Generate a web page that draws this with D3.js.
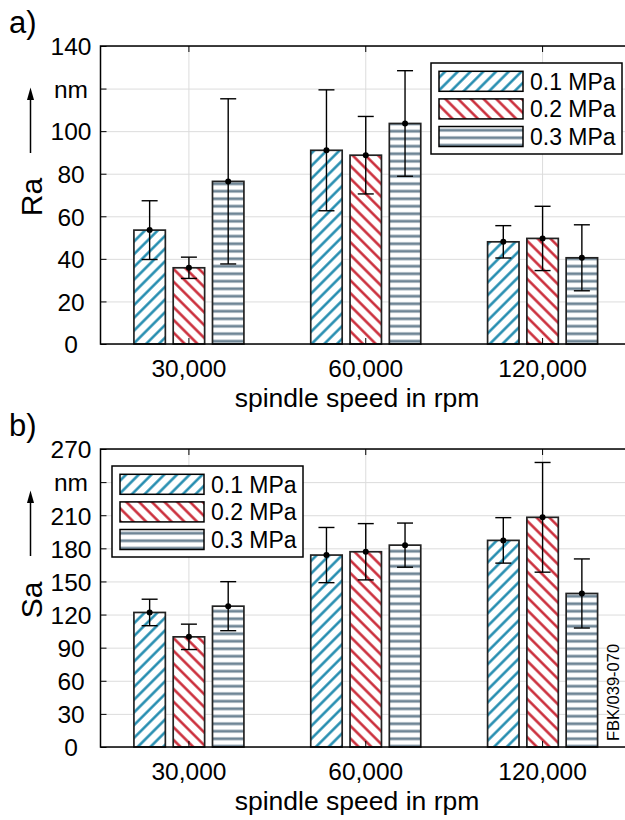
<!DOCTYPE html>
<html lang="en">
<head>
<meta charset="UTF-8">
<title>Ra / Sa vs spindle speed</title>
<script src="https://cdn.jsdelivr.net/npm/d3@7"></script>
<style>
  body { margin: 0; background: #fff; }
  svg text { font-family: Arial, "Liberation Sans", sans-serif; fill: #000; }
  .grid line { stroke: #dcdcdc; stroke-width: 1; }
  .grid path { display: none; }
  .bar { stroke: #222; stroke-width: 1.7; }
  .err { stroke: #000; stroke-width: 1.4; fill: none; }
  .ticks line { stroke: #000; stroke-width: 1; }
</style>
</head>
<body>
<div id="chart"></div>
<script>
var categories = ['30,000', '60,000', '120,000'];
var pressures = ['0.1 MPa', '0.2 MPa', '0.3 MPa'];

// Ra in nm: one row per pressure, one value per spindle speed
var raMean = [
  [53.5, 91.0, 48.0],
  [35.8, 88.7, 49.6],
  [76.4, 103.6, 40.5]
];
var raDev = [
  [13.8, 28.4, 7.6],
  [5.0, 18.2, 15.1],
  [38.8, 24.8, 15.5]
];
var raTicks = [0, 20, 40, 60, 80, 100, 120, 140];

// Sa in nm
var saMean = [
  [121.9, 173.9, 187.2],
  [99.8, 176.9, 208.1],
  [127.6, 182.9, 139.1]
];
var saDev = [
  [12.0, 25.0, 20.6],
  [11.5, 25.5, 49.7],
  [22.2, 20.0, 31.3]
];
var saTicks = [0, 30, 60, 90, 120, 150, 180, 210, 240, 270];

var hatchColors = ['#1786ab', '#c8202e', '#6f8696'];

var W = 625, H = 820;
var left = 100.5, right = 631;

var svg = d3.select('#chart').append('svg')
    .attr('width', W)
    .attr('height', H);

var defs = svg.append('defs');

function hatch(id, color, angle, size, width)
{
    var p = defs.append('pattern')
        .attr('id', id)
        .attr('patternUnits', 'userSpaceOnUse')
        .attr('width', size)
        .attr('height', size)
        .attr('patternTransform', 'rotate(' + angle + ')');
    p.append('rect').attr('width', size).attr('height', size).attr('fill', '#fff');
    p.append('line')
        .attr('x1', size / 2).attr('x2', size / 2)
        .attr('y1', 0).attr('y2', size)
        .attr('stroke', color)
        .attr('stroke-width', width);
}
hatch('h0', hatchColors[0], 45, 9, 2.4);
hatch('h1', hatchColors[1], -45, 9, 2.4);
hatch('h2', hatchColors[2], 90, 7.5, 2.8);

function drawPanel(cfg)
{
    var g = svg.append('g');
    var top = cfg.top, bottom = cfg.bottom;

    var x = d3.scaleBand().domain(categories).range([left, right]);
    var xs = d3.scaleBand().domain(pressures).range([-55, 55]).paddingInner(0.2);
    var y = d3.scaleLinear().domain([0, cfg.ticks[cfg.ticks.length - 1]]).range([bottom, top]);

    // grid
    g.append('g').attr('class', 'grid')
        .attr('transform', 'translate(' + left + ',0)')
        .call(d3.axisLeft(y).tickValues(cfg.ticks).tickSize(-(right - left)).tickFormat(''));
    g.append('g').attr('class', 'grid')
        .attr('transform', 'translate(0,' + bottom + ')')
        .call(d3.axisBottom(x).tickSize(-(bottom - top)).tickFormat(''));

    var bars = [];
    pressures.forEach(function(p, i)
    {
        categories.forEach(function(c, j)
        {
            bars.push({ p: p, i: i, c: c, m: cfg.mean[i][j], d: cfg.dev[i][j] });
        });
    });

    g.selectAll('rect.bar').data(bars).enter().append('rect')
        .attr('class', 'bar')
        .attr('x', function(d) { return x(d.c) + x.bandwidth() / 2 + xs(d.p); })
        .attr('width', xs.bandwidth())
        .attr('y', function(d) { return y(d.m); })
        .attr('height', function(d) { return y(0) - y(d.m); })
        .attr('fill', function(d) { return 'url(#h' + d.i + ')'; });

    // frame + inward ticks
    g.append('rect')
        .attr('x', left).attr('y', top)
        .attr('width', right - left).attr('height', bottom - top)
        .attr('fill', 'none').attr('stroke', '#000').attr('stroke-width', 1.5);

    var yAxis = g.append('g').attr('class', 'ticks')
        .attr('transform', 'translate(' + left + ',0)')
        .call(d3.axisLeft(y).tickValues(cfg.ticks).tickSizeInner(-6).tickSizeOuter(0)
            .tickFormat(function(d) { return d === cfg.unitAt ? 'nm' : d; }));
    yAxis.select('.domain').remove();
    yAxis.selectAll('text')
        .attr('text-anchor', 'middle')
        .attr('x', 71 - left)
        .attr('dy', '0.36em')
        .style('font-size', '24.5px');

    var yRight = g.append('g').attr('class', 'ticks')
        .attr('transform', 'translate(' + right + ',0)')
        .call(d3.axisRight(y).tickValues(cfg.ticks).tickSizeInner(-6).tickSizeOuter(0).tickFormat(''));
    yRight.select('.domain').remove();

    var xAxis = g.append('g').attr('class', 'ticks')
        .attr('transform', 'translate(0,' + bottom + ')')
        .call(d3.axisBottom(x).tickSizeInner(-6).tickSizeOuter(0).tickPadding(16));
    xAxis.select('.domain').remove();
    xAxis.selectAll('text').style('font-size', '24.5px');

    var xTop = g.append('g').attr('class', 'ticks')
        .attr('transform', 'translate(0,' + top + ')')
        .call(d3.axisTop(x).tickSizeInner(-6).tickSizeOuter(0).tickFormat(''));
    xTop.select('.domain').remove();

    // error bars
    var eb = g.selectAll('g.eb').data(bars).enter().append('g')
        .attr('class', 'eb')
        .attr('transform', function(d) { return 'translate(' + (x(d.c) + x.bandwidth() / 2 + xs(d.p) + xs.bandwidth() / 2) + ',0)'; });
    eb.append('line').attr('class', 'err')
        .attr('y1', function(d) { return y(d.m - d.d); })
        .attr('y2', function(d) { return y(d.m + d.d); });
    eb.append('line').attr('class', 'err')
        .attr('x1', -8).attr('x2', 8)
        .attr('y1', function(d) { return y(d.m + d.d); })
        .attr('y2', function(d) { return y(d.m + d.d); });
    eb.append('line').attr('class', 'err')
        .attr('x1', -8).attr('x2', 8)
        .attr('y1', function(d) { return y(d.m - d.d); })
        .attr('y2', function(d) { return y(d.m - d.d); });
    eb.append('circle')
        .attr('cy', function(d) { return y(d.m); })
        .attr('r', 3)
        .attr('fill', '#000');

    // labels
    g.append('text')
        .attr('x', 9).attr('y', top - 13)
        .style('font-size', '31px')
        .text(cfg.panel);

    g.append('text')
        .attr('transform', 'translate(42,' + ((top + bottom) / 2 + 2) + ') rotate(-90)')
        .attr('text-anchor', 'middle')
        .style('font-size', '30px')
        .text(cfg.label);

    g.append('line')
        .attr('x1', 30.5).attr('x2', 30.5)
        .attr('y1', top + 107).attr('y2', top + 52)
        .attr('stroke', '#000').attr('stroke-width', 1.5);
    g.append('path')
        .attr('d', 'M30.5,' + (top + 41.5) + 'L27,' + (top + 54) + 'L34,' + (top + 54) + 'Z')
        .attr('fill', '#000');

    g.append('text')
        .attr('x', 357).attr('y', bottom + 63)
        .attr('text-anchor', 'middle')
        .style('font-size', '26.5px')
        .text('spindle speed in rpm');

    // legend
    var lg = g.append('g').attr('transform', 'translate(' + cfg.legend[0] + ',' + cfg.legend[1] + ')');
    lg.append('rect')
        .attr('width', 191).attr('height', 91)
        .attr('fill', '#fff').attr('stroke', '#000').attr('stroke-width', 1.5);
    var row = lg.selectAll('g.row').data(pressures).enter().append('g')
        .attr('class', 'row')
        .attr('transform', function(d, i) { return 'translate(8,' + (8.3 + 27.6 * i) + ')'; });
    row.append('rect')
        .attr('width', 84).attr('height', 20)
        .attr('fill', function(d, i) { return 'url(#h' + i + ')'; })
        .attr('stroke', '#000').attr('stroke-width', 1.5);
    row.append('text')
        .attr('x', 91).attr('y', 18.5)
        .style('font-size', '23px')
        .text(function(d) { return d; });

    return g;
}

drawPanel({
    panel: 'a)', label: 'Ra', top: 46, bottom: 344,
    ticks: raTicks, unitAt: 120, mean: raMean, dev: raDev,
    legend: [431, 63]
});

var gb = drawPanel({
    panel: 'b)', label: 'Sa', top: 449, bottom: 747,
    ticks: saTicks, unitAt: 240, mean: saMean, dev: saDev,
    legend: [112, 466]
});

gb.append('text')
    .attr('transform', 'translate(619,692.5) rotate(-90)')
    .attr('text-anchor', 'middle')
    .style('font-size', '16.5px')
    .text('FBK/039-070');
</script>
</body>
</html>
